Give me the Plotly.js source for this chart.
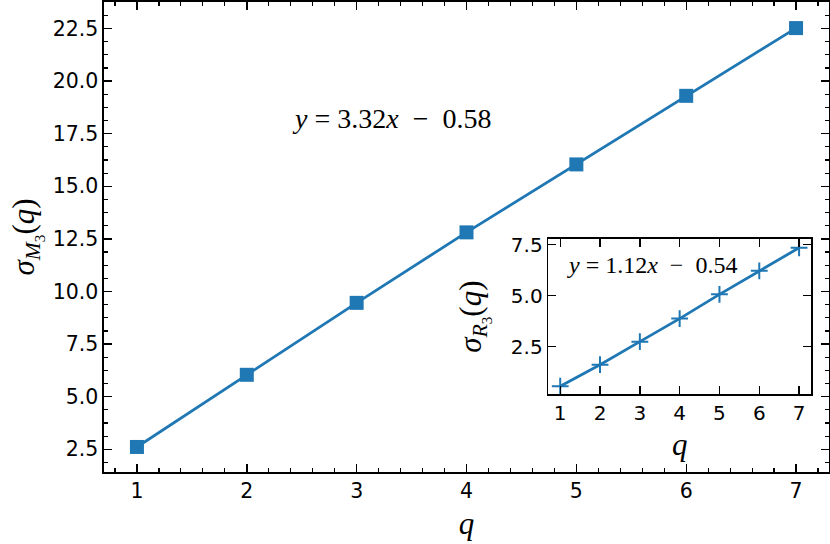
<!DOCTYPE html>
<html>
<head>
<meta charset="utf-8">
<script src="https://cdn.plot.ly/plotly-3.0.1.min.js"></script>
<style>html,body{margin:0;padding:0;background:#fff;}#chart{width:830px;height:544px;}</style>
</head>
<body>
<div id="chart"></div>
<script>
// Main series: sigma_M3(q)
var qValues = [1, 2, 3, 4, 5, 6, 7];
var sigmaM3 = [2.61, 6.04, 9.46, 12.81, 16.04, 19.30, 22.52];
// Inset series: sigma_R3(q)
var sigmaR3 = [0.57, 1.62, 2.75, 3.88, 5.07, 6.22, 7.35];
var mainFit = "<i>y</i> = 3.32<i>x</i>\u2002−\u20020.58";
var insetFit = "<i>y</i> = 1.12<i>x</i>\u2002−\u20020.54";
var xTicks = [1, 2, 3, 4, 5, 6, 7];
var mainYTicks = [2.5, 5.0, 7.5, 10.0, 12.5, 15.0, 17.5, 20.0, 22.5];
var insetYTicks = [2.5, 5.0, 7.5];

var blue = '#1f77b4';
var tickFont = {family: 'DejaVu Sans', size: 20.5, color: '#000'};
var insetTickFont = {family: 'DejaVu Sans', size: 20, color: '#000'};
var labelFont = {family: 'Liberation Serif', size: 31, color: '#000'};

var traces = [
  {x: qValues, y: sigmaM3, type: 'scatter', mode: 'lines+markers',
   line: {color: blue, width: 2.8},
   marker: {symbol: 'square', size: 14, color: blue},
   xaxis: 'x', yaxis: 'y', showlegend: false, hoverinfo: 'skip'},
  {x: qValues, y: sigmaR3, type: 'scatter', mode: 'lines+markers',
   line: {color: blue, width: 2.8},
   marker: {symbol: 'cross-thin', size: 12, color: blue, line: {color: blue, width: 2}},
   xaxis: 'x2', yaxis: 'y2', showlegend: false, hoverinfo: 'skip'}
];

function fmt(v){ return v.toFixed(1); }

var axCommon = {
  showgrid: false, zeroline: false, showline: true, linecolor: '#000', linewidth: 1.6,
  mirror: 'ticks', ticks: 'inside', ticklen: 8, tickwidth: 1.4, tickcolor: '#000'
};

var layout = {
  width: 830, height: 544,
  margin: {l: 104, r: 1, t: 2, b: 72},
  paper_bgcolor: '#fff', plot_bgcolor: '#fff',
  xaxis: Object.assign({}, axCommon, {
    domain: [0, 1], range: [0.7, 7.3],
    tickmode: 'array', tickvals: xTicks, ticktext: xTicks.map(String),
    tickfont: tickFont,
    minor: {dtick: 0.2, ticks: 'inside', ticklen: 4, tickwidth: 1.2, tickcolor: '#000', showgrid: false},
    title: {text: '<i>q</i>', font: labelFont, standoff: 10}
  }),
  yaxis: Object.assign({}, axCommon, {
    domain: [0, 1], range: [1.42, 23.76],
    tickmode: 'array', tickvals: mainYTicks, ticktext: mainYTicks.map(fmt),
    tickfont: tickFont,
    minor: {dtick: 0.625, tick0: 0, ticks: 'inside', ticklen: 4, tickwidth: 1.2, tickcolor: '#000', showgrid: false},
    title: {text: '<i>σ</i><sub><i>M</i><sub>3</sub></sub>(<i>q</i>)', font: labelFont, standoff: 9}
  }),
  xaxis2: Object.assign({}, axCommon, {
    domain: [0.6128, 0.9752], range: [0.7, 7.3], anchor: 'y2',
    tickmode: 'array', tickvals: xTicks, ticktext: xTicks.map(String),
    tickfont: insetTickFont,
    title: {text: '<i>q</i>', font: labelFont, standoff: 9}
  }),
  yaxis2: Object.assign({}, axCommon, {
    domain: [0.1653, 0.4957], range: [0.17, 7.78], anchor: 'x2',
    tickmode: 'array', tickvals: insetYTicks, ticktext: insetYTicks.map(fmt),
    tickfont: insetTickFont,
    title: {text: '<i>σ</i><sub><i>R</i><sub>3</sub></sub>(<i>q</i>)', font: labelFont, standoff: 20}
  }),
  shapes: [
    {type: 'rect', xref: 'x2 domain', yref: 'y2 domain', x0: 0, x1: 1, y0: 0, y1: 1,
     fillcolor: '#fff', line: {width: 0}, layer: 'below'}
  ],
  annotations: [
    {text: mainFit, xref: 'x', yref: 'y', x: 3.32, y: 18.24, showarrow: false,
     font: {family: 'Liberation Serif', size: 28, color: '#000'}, xanchor: 'center', yanchor: 'middle'},
    {text: insetFit, xref: 'x2', yref: 'y2', x: 3.3, y: 6.5, showarrow: false,
     font: {family: 'Liberation Serif', size: 24, color: '#000'}, xanchor: 'center', yanchor: 'middle'}
  ]
};

Plotly.newPlot('chart', traces, layout, {staticPlot: true, displayModeBar: false});
</script>
</body>
</html>
